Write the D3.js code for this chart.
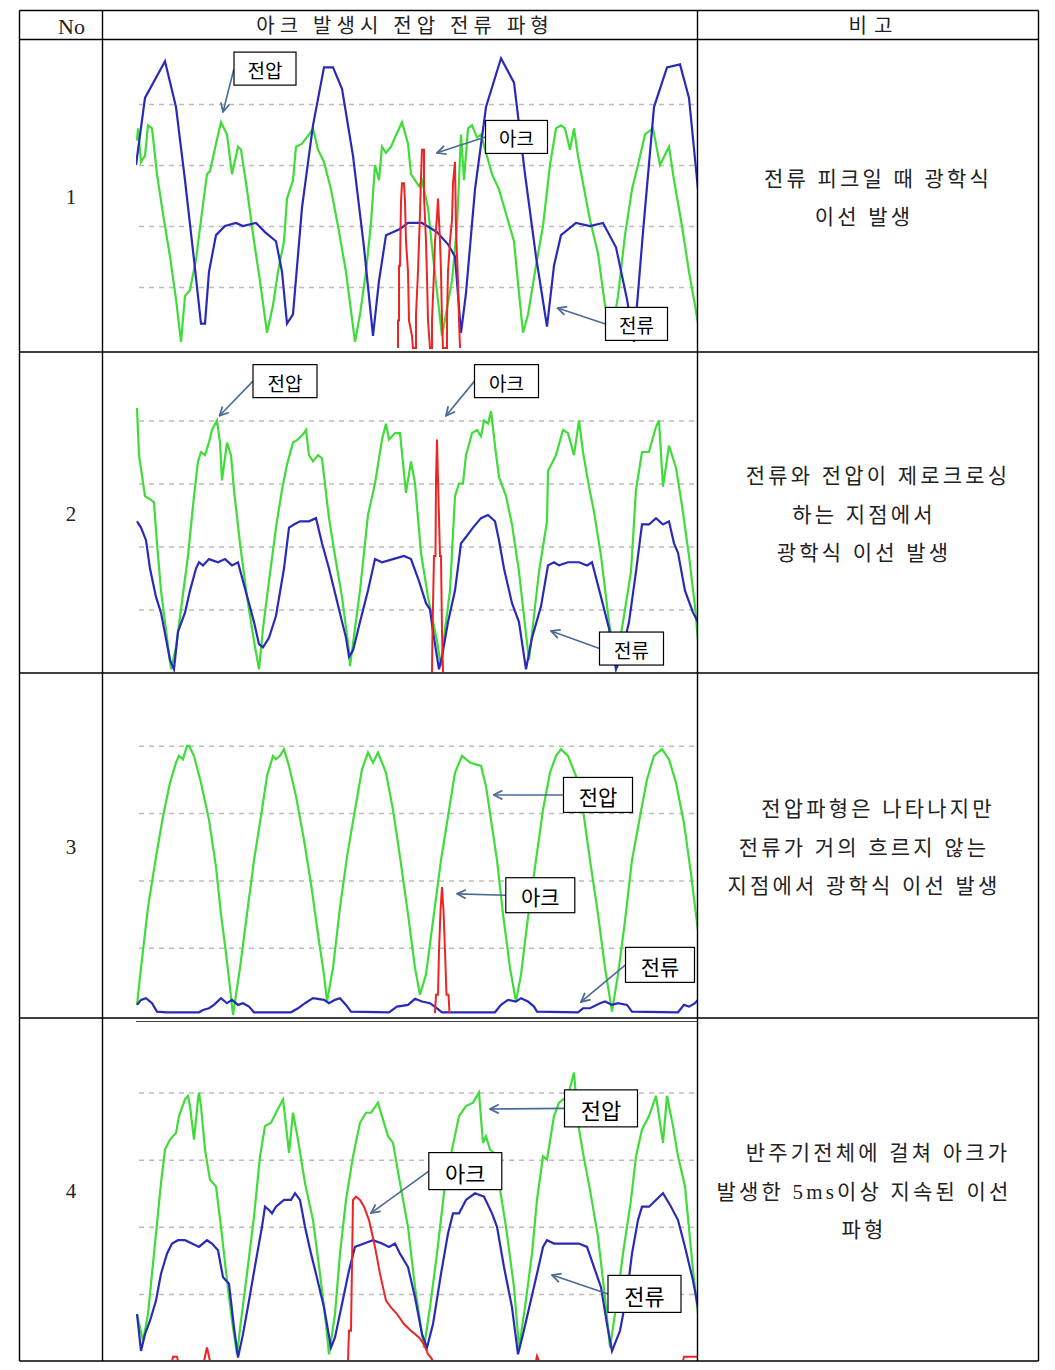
<!DOCTYPE html>
<html lang="ko">
<head>
<meta charset="UTF-8">
<title>아크 발생시 전압 전류 파형</title>
<style>
    body { margin: 0; background: #fff; }
    svg { display: block; }
    .cell-text { font-family: "Liberation Serif", "Noto Sans CJK KR", serif; fill: #222; }
    .note { font-family: "Noto Sans CJK KR", sans-serif; fill: #000; }
</style>
</head>
<body>
<svg width="1055" height="1370"></svg>
<script src="https://d3js.org/d3.v7.min.js"></script>
<script>

// Table texts
const headerLabels = ['No', '아크 발생시 전압 전류 파형', '비고'];
const rowNumbers = ['1', '2', '3', '4'];
const remarks = [
    ['전류 피크일 때 광학식', '이선 발생'],
    ['전류와 전압이 제로크로싱', '하는 지점에서', '광학식 이선 발생'],
    ['전압파형은 나타나지만', '전류가 거의 흐르지 않는', '지점에서 광학식 이선 발생'],
    ['반주기전체에 걸쳐 아크가', '발생한 5ms이상 지속된 이선', '파형']
];

// Dashed reference levels (% of full scale)
const gridLevels = [20, 40, 60, 80];

// Waveforms: [sample, % of full scale]
const p1Voltage = [[1,68],[2,72],[5,61],[9,63],[12,73],[16,72],[21,57],[27,44],[34,30],[40,16],[45,2],[49,17],[54,19],[60,29],[65,42],[71,57],[74,58],[80,67],[85,74],[91,70],[96,57],[102,66],[105,65],[111,52],[118,35],[124,22],[131,5],[137,14],[142,25],[148,35],[151,49],[157,55],[160,66],[166,67],[173,70],[177,72],[182,65],[188,61],[195,52],[202,40],[210,25],[219,2],[224,11],[230,25],[235,41],[239,60],[243,55],[246,66],[250,64],[255,66],[259,69],[266,74],[272,67],[275,57],[283,53],[286,55],[292,46],[297,30],[306,4],[316,22],[321,40],[325,70],[328,55],[332,72],[336,73],[341,69],[345,70],[356,57],[363,52],[370,44],[378,35],[383,18],[387,5],[392,11],[400,27],[407,40],[414,60],[420,72],[425,73],[429,72],[434,65],[438,72],[442,63],[447,54],[454,42],[462,31],[469,14],[476,5],[482,17],[489,37],[496,52],[502,60],[509,70],[517,72],[524,60],[533,66],[538,55],[546,40],[553,25],[559,14],[562,8]];
const p1Current = [[0,60],[9,82],[29,94],[40,79],[49,55],[58,29],[65,8],[69,8],[73,25],[80,37],[89,40],[100,41],[107,40],[120,41],[129,38],[140,35],[146,25],[151,8],[157,11],[166,46],[177,73],[188,92],[197,92],[206,85],[217,63],[228,33],[237,4],[243,22],[250,37],[264,39],[272,41],[286,41],[301,38],[312,34],[319,30],[325,5],[330,18],[339,52],[350,79],[365,95],[378,87],[389,57],[400,30],[411,7],[418,27],[425,37],[440,41],[454,40],[467,41],[480,33],[491,16],[498,2],[507,38],[518,79],[531,92],[544,93],[553,82],[562,52]];
const p1Arc = [[262,0],[262,9],[263,9],[263,27],[264,27],[265,48],[266,54],[268,54],[269,48],[270,35],[272,25],[273,9],[276,4],[277,0],[280,0],[280,11],[282,25],[284,44],[285,56],[286,65],[288,65],[288,50],[290,35],[291,23],[292,9],[294,0],[296,0],[296,9],[298,25],[299,35],[301,43],[302,49],[304,35],[305,25],[306,9],[307,0],[311,0],[311,9],[312,25],[314,35],[316,42],[317,54],[319,61],[320,39],[322,22],[323,9],[324,0]];

const p2Voltage = [[1,84],[3,69],[9,56],[14,55],[18,54],[21,41],[25,26],[31,11],[35,1],[40,8],[45,20],[52,37],[58,56],[62,67],[65,70],[69,69],[73,73],[76,77],[81,80],[84,73],[86,61],[91,73],[95,69],[98,58],[104,41],[111,24],[118,10],[123,1],[127,14],[133,29],[140,46],[146,58],[151,66],[157,73],[162,74],[168,76],[170,77],[173,69],[177,67],[182,69],[186,68],[193,49],[199,37],[206,24],[213,7],[214,2],[219,14],[224,26],[232,50],[239,60],[246,74],[250,79],[253,74],[259,76],[264,76],[270,57],[275,67],[279,60],[285,38],[292,24],[301,10],[305,2],[308,11],[314,26],[319,56],[323,60],[327,60],[330,69],[336,76],[341,77],[345,75],[348,80],[352,79],[355,83],[359,72],[363,62],[370,56],[376,47],[383,32],[389,15],[393,4],[398,18],[403,32],[411,48],[412,64],[420,69],[427,77],[432,76],[438,69],[443,80],[447,70],[453,59],[458,51],[465,37],[473,16],[480,3],[487,16],[495,32],[500,58],[506,70],[513,70],[520,78],[523,80],[527,59],[533,72],[540,65],[546,53],[553,37],[559,21],[562,10]];
const p2Current = [[1,48],[5,46],[10,42],[14,33],[20,24],[25,19],[31,9],[34,4],[38,1],[42,13],[49,19],[54,26],[60,33],[63,35],[67,34],[73,36],[82,35],[89,36],[96,34],[102,35],[107,29],[113,22],[118,16],[123,9],[127,8],[133,11],[140,18],[148,33],[153,46],[158,47],[164,48],[173,48],[180,49],[186,41],[193,33],[200,24],[210,11],[213,5],[217,7],[224,16],[232,26],[239,36],[246,35],[257,36],[268,37],[275,36],[283,29],[290,22],[294,20],[297,13],[303,1],[306,5],[312,16],[319,26],[325,41],[330,43],[337,46],[345,49],[352,50],[359,48],[363,42],[368,33],[376,22],[383,16],[390,1],[396,11],[405,21],[412,34],[418,35],[423,34],[432,35],[443,35],[451,34],[456,35],[465,24],[473,14],[480,1],[485,5],[493,16],[500,32],[506,47],[513,47],[520,49],[527,47],[533,48],[538,41],[542,38],[549,26],[557,19],[562,16]];
const p2Arc = [[296,0],[296.5,13],[298,37],[299.5,37],[300,61],[301,74],[302,61],[304,37],[305,37],[306,13],[307,0]];

const p3Voltage = [[1,3],[5,14],[12,32],[20,47],[27,59],[34,69],[40,75],[43,77],[47,76],[51,80],[53,80],[58,77],[65,69],[73,58],[80,44],[85,30],[91,16],[97,0],[104,14],[111,30],[118,46],[126,61],[131,71],[137,77],[140,76],[144,77],[148,79],[153,74],[160,65],[168,52],[175,39],[182,24],[188,12],[191,4],[197,14],[204,32],[211,47],[219,61],[226,73],[232,78],[237,75],[242,78],[250,72],[257,61],[264,47],[272,30],[279,14],[284,6],[290,12],[297,28],[305,46],[312,59],[319,72],[326,77],[334,75],[345,74],[350,68],[356,56],[361,46],[367,30],[374,14],[380,4],[385,12],[392,29],[400,46],[407,61],[414,72],[420,77],[425,79],[432,77],[440,71],[447,61],[454,46],[462,30],[469,14],[476,1],[482,12],[489,28],[496,46],[504,59],[511,70],[518,77],[526,79],[533,76],[540,69],[548,57],[555,42],[562,25]];
const p3Current = [[1,3],[5,4.5],[10,5],[16,3.5],[21,1],[31,0.8],[63,0.8],[67,1.5],[73,2],[78,3],[85,5],[91,3.5],[96,4.5],[102,3],[107,3.5],[113,2.5],[118,0.8],[155,0.8],[162,2],[169,3.5],[177,5],[188,4.5],[193,3.5],[199,4.5],[204,5],[210,3],[215,1],[253,0.8],[261,2.5],[272,3],[279,4.8],[286,4],[294,3.5],[301,2],[306,0.8],[359,0.8],[365,3],[372,4.5],[380,4],[385,5],[392,4],[398,2.5],[401,1],[442,0.8],[447,2],[454,2],[464,3.5],[469,4],[476,3],[482,3.5],[491,3],[496,1],[542,0.8],[548,3],[553,2.5],[559,3.5],[562,4.5]];
const p3Arc = [[299,0.5],[300,6],[302,6],[303,19],[304.5,31],[306,38],[307.5,31],[309,19],[310.5,6],[312.5,6],[313.5,0.5]];

const p4Voltage = [[1,14],[7,6],[12,14],[20,38],[25,53],[29,63],[34,66],[40,68],[43,73],[49,78],[52,79],[54,76],[58,66],[62,78],[63,80],[65,76],[69,63],[74,54],[80,52],[85,40],[91,24],[96,12],[101,2],[105,12],[111,26],[118,43],[124,61],[129,70],[135,71],[140,74],[147,78],[149,73],[153,62],[157,74],[162,66],[169,53],[177,42],[184,26],[190,11],[193,2],[199,14],[204,32],[210,48],[217,61],[224,71],[230,74],[235,74],[242,77],[246,73],[252,67],[257,65],[264,53],[272,40],[279,22],[286,8],[288,4],[294,16],[301,32],[308,50],[316,63],[323,73],[330,76],[337,77],[343,80],[347,65],[350,67],[354,63],[358,62],[363,53],[370,40],[378,22],[383,4],[389,16],[396,32],[401,48],[407,61],[411,60],[418,73],[423,77],[432,79],[438,86],[442,71],[447,62],[454,51],[462,37],[469,19],[474,4],[480,16],[487,32],[495,48],[500,61],[506,69],[513,73],[520,79],[527,65],[531,79],[537,70],[542,61],[549,52],[557,27],[562,14]];
const p4Current = [[1,14],[5,3],[9,8],[14,12],[20,18],[25,26],[31,32],[36,35],[42,36],[49,36],[56,35],[63,34],[71,36],[76,35],[82,33],[87,25],[93,23],[98,10],[102,1],[107,8],[113,18],[120,30],[126,40],[129,46],[133,45],[136,44],[140,46],[148,48],[155,48],[159,50],[164,48],[169,40],[175,32],[180,26],[188,16],[195,4],[199,7],[206,17],[213,27],[219,34],[228,35],[237,36],[246,35],[253,34],[259,35],[264,32],[272,28],[279,19],[286,8],[291,4],[297,11],[305,26],[312,38],[317,44],[323,44],[330,48],[339,50],[348,49],[356,44],[361,40],[368,28],[376,16],[382,2],[387,8],[394,17],[401,26],[407,34],[411,36],[418,35],[425,35],[432,35],[443,35],[451,34],[458,28],[465,22],[471,11],[476,3],[484,9],[491,20],[496,32],[502,42],[506,46],[513,46],[520,48],[527,50],[535,46],[542,42],[549,34],[557,24],[562,16]];
const p4Arc = [[0,0],[36,0],[37,1.3],[41,1.3],[42,0],[68,0],[71,4],[74,0],[212,0],[213,9],[215,9],[217,48],[220,49],[224,48],[228,46],[233,42],[239,34],[244,26],[250,18],[255,16],[261,14],[268,11],[275,9],[283,7],[288,5],[292,2],[295,1],[297,0],[400,0],[401,1.5],[403,0],[547,0],[548,1.3],[562,1.3]];

// Call-outs: label box centre (t, v) and arrow tip (tt, tv), in data units
const p1Notes = [
    { text: '전압', t: 129, v: 91.6, tt: 87, tv: 77.4 },
    { text: '아크', t: 380.5, v: 69.2, tt: 301, tv: 64 },
    { text: '전류', t: 500.5, v: 7.9, tt: 421.5, tv: 13.1 }
];
const p2Notes = [
    { text: '전압', t: 149, v: 92.5, tt: 83.5, tv: 81.5 },
    { text: '아크', t: 370.5, v: 92.5, tt: 310, tv: 81.5 },
    { text: '전류', t: 495.5, v: 7.6, tt: 415, tv: 13.2 }
];
const p3Notes = [
    { text: '전압', t: 462, v: 65.4, tt: 357.6, tv: 65.4 },
    { text: '아크', t: 404.3, v: 35.6, tt: 321, tv: 36 },
    { text: '전류', t: 524, v: 14.9, tt: 445, tv: 3.9 }
];
const p4Notes = [
    { text: '전압', t: 465, v: 75.3, tt: 354, tv: 75.1 },
    { text: '아크', t: 329.3, v: 56.6, tt: 235, tv: 44.1 },
    { text: '전류', t: 508.5, v: 20, tt: 416, tv: 25.6 }
];

// ---- layout ----
const rowEdges = [10.5, 39.5, 352, 673, 1018, 1361];
const colEdges = [19.5, 102.5, 697.5, 1038.5];
const plotLeft = 136, plotRight = 697;

const panels = [
    { voltage: p1Voltage, current: p1Current, arc: p1Arc, notes: p1Notes, yRange: [348, 43],     clip: [41, 351],     font: 19, box: [62, 33] },
    { voltage: p2Voltage, current: p2Current, arc: p2Arc, notes: p2Notes, yRange: [672.5, 357.5], clip: [353.5, 672], font: 19, box: [64, 33] },
    { voltage: p3Voltage, current: p3Current, arc: p3Arc, notes: p3Notes, yRange: [1015, 678.5],  clip: [674.5, 1016.5], font: 21, box: [69, 35] },
    { voltage: p4Voltage, current: p4Current, arc: p4Arc, notes: p4Notes, yRange: [1361, 1025.5], clip: [1022, 1360], font: 22, box: [73, 37] }
];

const svg = d3.select('svg');
svg.append('rect').attr('width', 1055).attr('height', 1370).attr('fill', '#fff');

const defs = svg.append('defs');
defs.append('marker')
    .attr('id', 'arrow')
    .attr('viewBox', '0 0 10 10')
    .attr('refX', 9).attr('refY', 5)
    .attr('markerWidth', 11).attr('markerHeight', 11)
    .attr('markerUnits', 'userSpaceOnUse')
    .attr('orient', 'auto')
    .append('path')
    .attr('d', 'M1,1 L9,5 L1,9')
    .attr('fill', 'none')
    .attr('stroke', '#4a6b95')
    .attr('stroke-width', 1.6);

const xScale = d3.scaleLinear().domain([0, 560]).range([plotLeft, 696]);

panels.forEach(function (p, i) {

    const yScale = d3.scaleLinear().domain([0, 100]).range(p.yRange);

    defs.append('clipPath')
        .attr('id', 'clip' + i)
        .append('rect')
        .attr('x', plotLeft)
        .attr('y', p.clip[0])
        .attr('width', plotRight - plotLeft)
        .attr('height', p.clip[1] - p.clip[0]);

    const g = svg.append('g').attr('clip-path', 'url(#clip' + i + ')');

    // dashed grid
    const grid = d3.axisLeft(yScale)
        .tickValues(gridLevels)
        .tickSize(-(695 - 139))
        .tickFormat('');

    g.append('g')
        .attr('transform', 'translate(139 0)')
        .call(grid)
        .call(function (a) {
            a.select('.domain').remove();
            a.selectAll('.tick line')
                .attr('stroke', '#bcbcbc')
                .attr('stroke-width', 1.5)
                .attr('stroke-dasharray', '5,5');
        });

    const line = d3.line()
        .x(function (d) { return xScale(d[0]); })
        .y(function (d) { return yScale(d[1]); });

    g.append('path').datum(p.voltage)
        .attr('d', line).attr('fill', 'none')
        .attr('stroke', '#3fdc3a').attr('stroke-width', 2.2);

    g.append('path').datum(p.current)
        .attr('d', line).attr('fill', 'none')
        .attr('stroke', '#2a2ab8').attr('stroke-width', 2.2);

    g.append('path').datum(p.arc)
        .attr('d', line).attr('fill', 'none')
        .attr('stroke', '#ee2424').attr('stroke-width', 2);

    // call-outs
    const w = p.box[0], h = p.box[1];
    p.notes.forEach(function (n) {
        const cx = xScale(n.t), cy = yScale(n.v);
        svg.append('line')
            .attr('x1', cx - w / 2).attr('y1', cy)
            .attr('x2', xScale(n.tt)).attr('y2', yScale(n.tv))
            .attr('stroke', '#4a6b95').attr('stroke-width', 1.6)
            .attr('marker-end', 'url(#arrow)');
        svg.append('rect')
            .attr('x', cx - w / 2).attr('y', cy - h / 2)
            .attr('width', w).attr('height', h)
            .attr('fill', '#fff').attr('stroke', '#000').attr('stroke-width', 1.2);
        svg.append('text')
            .attr('class', 'note')
            .attr('x', cx).attr('y', cy + 1)
            .attr('text-anchor', 'middle')
            .attr('dominant-baseline', 'central')
            .attr('font-size', p.font)
            .text(n.text);
    });
});

// chart frame line at the top of panel 4
svg.append('line')
    .attr('x1', plotLeft).attr('x2', plotRight)
    .attr('y1', 1021.5).attr('y2', 1021.5)
    .attr('stroke', '#444').attr('stroke-width', 1);

// ---- table grid ----
const table = svg.append('g').attr('stroke', '#000').attr('stroke-width', 1.4);
rowEdges.forEach(function (y) {
    table.append('line').attr('x1', colEdges[0]).attr('x2', colEdges[3]).attr('y1', y).attr('y2', y);
});
colEdges.forEach(function (x) {
    table.append('line').attr('x1', x).attr('x2', x).attr('y1', rowEdges[0]).attr('y2', rowEdges[5]);
});

// header
const headerX = [71.5, 405, 874];
headerLabels.forEach(function (t, i) {
    svg.append('text')
        .attr('class', 'cell-text')
        .attr('x', headerX[i]).attr('y', (rowEdges[0] + rowEdges[1]) / 2 + 1)
        .attr('text-anchor', 'middle')
        .attr('dominant-baseline', 'central')
        .attr('font-size', i === 0 ? 22 : 20)
        .attr('letter-spacing', i === 1 ? 5 : (i === 2 ? 7 : 0))
        .text(t);
});

// row numbers and remarks
rowNumbers.forEach(function (t, i) {
    const mid = (rowEdges[i + 1] + rowEdges[i + 2]) / 2;
    svg.append('text')
        .attr('class', 'cell-text')
        .attr('x', 71).attr('y', mid + 1)
        .attr('text-anchor', 'middle')
        .attr('dominant-baseline', 'central')
        .attr('font-size', 21)
        .text(t);

    const lines = remarks[i];
    const lh = 38.5;
    lines.forEach(function (s, j) {
        svg.append('text')
            .attr('class', 'cell-text')
            .attr('x', j === 0 ? 878 : 864)
            .attr('y', mid + 2 + (j - (lines.length - 1) / 2) * lh)
            .attr('text-anchor', 'middle')
            .attr('dominant-baseline', 'central')
            .attr('font-size', 21)
            .attr('letter-spacing', 3.2)
            .text(s);
    });
});

</script>
</body>
</html>
